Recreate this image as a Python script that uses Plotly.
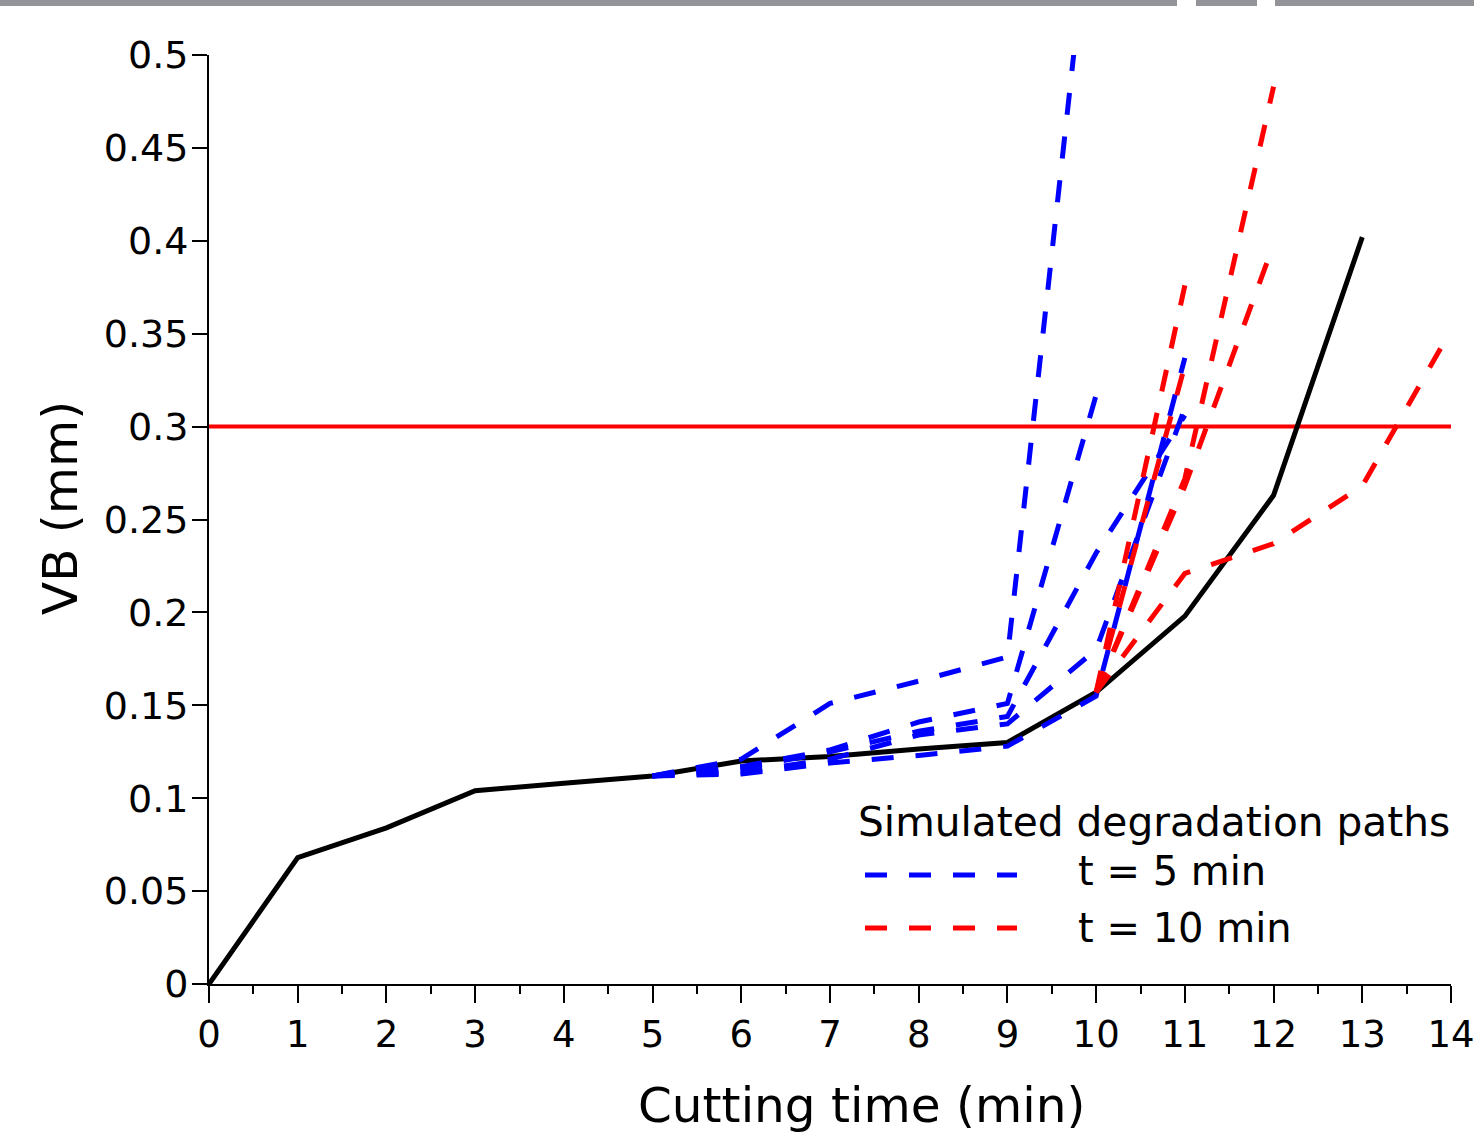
import plotly.graph_objects as go

# ---------------- data ----------------
time_measured = [0, 1, 2, 3, 4, 5, 6, 7, 8, 9, 10, 11, 12, 13]
vb_measured = [0.0, 0.068, 0.084, 0.104, 0.108, 0.112, 0.120, 0.1225, 0.1265,
               0.130, 0.157, 0.198, 0.263, 0.402]

threshold_time = [0, 14]
threshold_vb = [0.3, 0.3]

blue_start = 5   # simulated paths starting at t = 5 min
blue_paths = [
    [0.112, 0.121, 0.151, 0.163, 0.176, 0.61],
    [0.112, 0.117, 0.126, 0.141, 0.151, 0.317],
    [0.112, 0.116, 0.125, 0.136, 0.144, 0.232, 0.306],
    [0.112, 0.114, 0.121, 0.134, 0.140, 0.180, 0.310],
    [0.112, 0.113, 0.119, 0.123, 0.128, 0.155, 0.337],
]

red_start = 10   # simulated paths starting at t = 10 min
red_paths = [
    [0.157, 0.272, 0.483],
    [0.157, 0.268, 0.398],
    [0.157, 0.376],
    [0.157, 0.333],
    [0.157, 0.221, 0.237, 0.268, 0.352],
]

x_ticks = list(range(0, 15))
y_ticks = [0, 0.05, 0.1, 0.15, 0.2, 0.25, 0.3, 0.35, 0.4, 0.45, 0.5]
y_ticktext = ["0", "0.05", "0.1", "0.15", "0.2", "0.25", "0.3", "0.35", "0.4", "0.45", "0.5"]

legend_title = "Simulated degradation paths"
legend_labels = ["t = 5 min", "t = 10 min"]

# ---------------- figure ----------------
FONT = "DejaVu Sans"
BLUE = "#0000FF"
RED = "#FF0000"
DASH = "22px,22px"

fig = go.Figure()

fig.add_trace(go.Scatter(x=threshold_time, y=threshold_vb, mode="lines",
                         line=dict(color=RED, width=4), showlegend=False,
                         hoverinfo="skip"))
fig.add_trace(go.Scatter(x=time_measured, y=vb_measured, mode="lines",
                         line=dict(color="black", width=5), showlegend=False))

for p in blue_paths:
    fig.add_trace(go.Scatter(x=[blue_start + i for i in range(len(p))], y=p,
                             mode="lines", line=dict(color=BLUE, width=5, dash=DASH),
                             showlegend=False))
for p in red_paths:
    fig.add_trace(go.Scatter(x=[red_start + i for i in range(len(p))], y=p,
                             mode="lines", line=dict(color=RED, width=5, dash=DASH),
                             showlegend=False))

# plot-area geometry (px) used for decorations placed in paper coords
L, R, T, B = 209, 1451, 55, 984
W, H = R - L, B - T


def px(xp):
    return (xp - L) / W


def py(yp):
    return (B - yp) / H


shapes = []
# manual legend samples
for yy, col in [(875, BLUE), (928, RED)]:
    shapes.append(dict(type="line", xref="paper", yref="paper",
                       x0=px(865), x1=px(1017), y0=py(yy), y1=py(yy),
                       line=dict(color=col, width=5, dash=DASH)))
# grey strip at the very top of the image
for x0, x1 in [(0, 1177), (1196, 1257), (1275, 1474)]:
    shapes.append(dict(type="rect", xref="paper", yref="paper",
                       x0=px(x0), x1=px(x1), y0=py(6), y1=py(-2),
                       line=dict(width=0), fillcolor="#939497", layer="above"))

annotations = [
    dict(text=legend_title, xref="paper", yref="paper", x=px(856), y=py(822),
         xanchor="left", yanchor="middle", showarrow=False,
         font=dict(family=FONT, size=40.7, color="black")),
    dict(text=legend_labels[0], xref="paper", yref="paper", x=px(1076), y=py(871),
         xanchor="left", yanchor="middle", showarrow=False,
         font=dict(family=FONT, size=40, color="black")),
    dict(text=legend_labels[1], xref="paper", yref="paper", x=px(1076), y=py(928),
         xanchor="left", yanchor="middle", showarrow=False,
         font=dict(family=FONT, size=40, color="black")),
    dict(text="Cutting time (min)", xref="paper", yref="paper", x=px(861), y=py(1105),
         xanchor="center", yanchor="middle", showarrow=False,
         font=dict(family=FONT, size=48.5, color="black")),
    dict(text="VB (mm)", xref="paper", yref="paper", x=px(60), y=py(508),
         xanchor="center", yanchor="middle", showarrow=False, textangle=-90,
         font=dict(family=FONT, size=48.5, color="black")),
]

fig.update_layout(
    width=1474, height=1133,
    margin=dict(l=L, r=1474 - R, t=T, b=1133 - B, pad=0),
    paper_bgcolor="white", plot_bgcolor="white",
    font=dict(family=FONT, color="black"),
    showlegend=False,
    shapes=shapes,
    annotations=annotations,
)

fig.update_xaxes(range=[0, 14], tickvals=x_ticks, ticktext=[str(v) for v in x_ticks],
                 automargin=False,
                 showgrid=False, zeroline=False, showline=True, linecolor="black",
                 linewidth=2, ticks="outside", ticklen=17, tickwidth=2, tickcolor="black",
                 ticklabeloverflow="allow",
                 tickfont=dict(family=FONT, size=37, color="black"),
                 minor=dict(ticks="outside", ticklen=8, tickwidth=2, tickcolor="black",
                            dtick=0.5, showgrid=False))
fig.update_yaxes(range=[0, 0.5], tickvals=y_ticks, ticktext=y_ticktext,
                 automargin=False,
                 showgrid=False, zeroline=False, showline=True, linecolor="black",
                 linewidth=2, ticks="outside", ticklen=15, tickwidth=2, tickcolor="black",
                 ticklabelstandoff=-4, ticklabeloverflow="allow",
                 tickfont=dict(family=FONT, size=38, color="black"))

fig.write_html("out.html",
               config={"displayModeBar": False},
               post_script="document.body.style.margin='0px';"
                           "document.body.style.overflow='hidden';")
